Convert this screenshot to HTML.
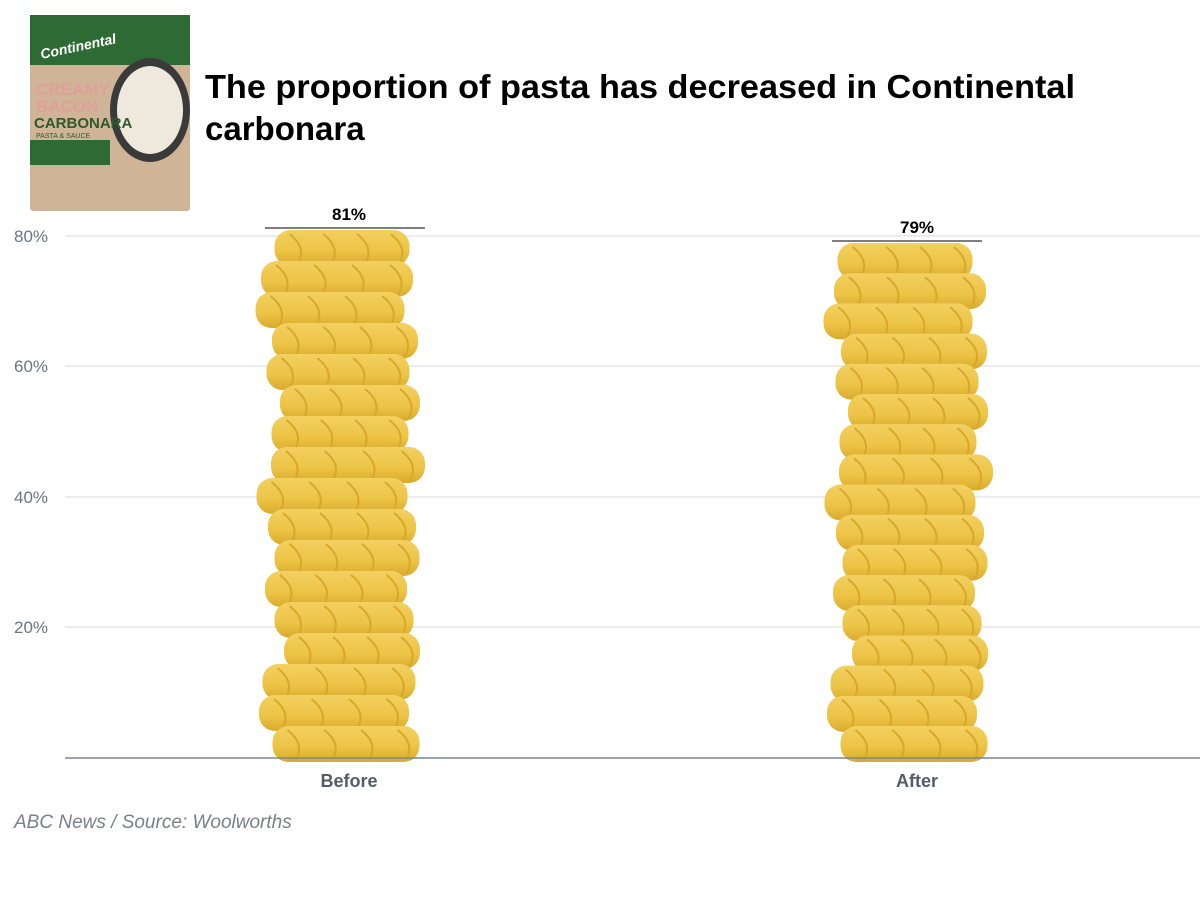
<!DOCTYPE html>
<html><head><meta charset="utf-8"><style>
body{margin:0;background:#fff;width:1200px;height:893px;overflow:hidden;font-family:"Liberation Sans",sans-serif;}
</style></head><body>
<svg width="1200" height="893" xmlns="http://www.w3.org/2000/svg" id="s">
<defs>
<linearGradient id="pg" x1="0" y1="0" x2="0" y2="1">
<stop offset="0" stop-color="#f3d060"/><stop offset="0.6" stop-color="#ecc345"/><stop offset="1" stop-color="#d9aa2c"/>
</linearGradient>
</defs>
<rect x="30" y="15" width="160" height="196" fill="#cfb497" rx="3"/>
<rect x="30" y="15" width="160" height="50" fill="#2e6b34"/>
<rect x="30" y="140" width="80" height="25" fill="#2e6b34"/>
<ellipse cx="150" cy="110" rx="40" ry="52" fill="#3a3a3a"/>
<ellipse cx="150" cy="110" rx="33" ry="44" fill="#eee9dc"/>
<text x="40" y="55" font-size="14" font-style="italic" font-weight="bold" fill="#fff" transform="rotate(-12 60 50)">Continental</text>
<text x="36" y="95" font-size="17" font-weight="bold" fill="#e0a09a">CREAMY</text>
<text x="36" y="112" font-size="17" font-weight="bold" fill="#e0a09a">BACON</text>
<text x="34" y="128" font-size="15" font-weight="bold" fill="#2e5a2e">CARBONARA</text>
<text x="36" y="138" font-size="7" fill="#2e5a2e">PASTA &amp; SAUCE</text>
<text x="205" y="98" font-size="33" font-weight="bold" fill="#000" textLength="870" lengthAdjust="spacingAndGlyphs">The proportion of pasta has decreased in Continental</text>
<text x="205" y="140" font-size="33" font-weight="bold" fill="#000">carbonara</text>
<g stroke="#dde1e7" stroke-width="1.2">
<line x1="65" x2="1200" y1="236" y2="236"/>
<line x1="65" x2="1200" y1="366" y2="366"/>
<line x1="65" x2="1200" y1="497" y2="497"/>
<line x1="65" x2="1200" y1="627" y2="627"/>
</g>
<g id="pasta"></g>
<line x1="65" x2="1200" y1="758" y2="758" stroke="#7c8594" stroke-width="1.5"/>
<g font-size="17" fill="#6b7585">
<text x="14" y="242">80%</text><text x="14" y="372">60%</text><text x="14" y="503">40%</text><text x="14" y="633">20%</text>
</g>
<line x1="265" x2="425" y1="228" y2="228" stroke="#555" stroke-width="1.5"/>
<line x1="832" x2="982" y1="241" y2="241" stroke="#555" stroke-width="1.5"/>
<text x="349" y="220" font-size="17" font-weight="bold" text-anchor="middle">81%</text>
<text x="917" y="233" font-size="17" font-weight="bold" text-anchor="middle">79%</text>
<text x="349" y="787" font-size="18" font-weight="bold" fill="#555c68" text-anchor="middle">Before</text>
<text x="917" y="787" font-size="18" font-weight="bold" fill="#555c68" text-anchor="middle">After</text>
<text x="14" y="828" font-size="19" font-style="italic" fill="#7a808a">ABC News / Source: Woolworths</text>
</svg>
<script>
var g=document.getElementById('pasta'),ns='http://www.w3.org/2000/svg';
function col(cx,top,offs){
 var n=17,h=36,bottom=762,step=(bottom-top-h)/(n-1);
 for(var i=0;i<n;i++){
  var y=top+i*step;
  var o=offs[i%offs.length];
  var w=135+((i*37)%20);
  var x=cx-w/2+o;
  var p=document.createElementNS(ns,'rect');
  p.setAttribute('x',x);p.setAttribute('y',y);p.setAttribute('width',w);p.setAttribute('height',h);
  p.setAttribute('rx',16);p.setAttribute('fill','url(#pg)');g.appendChild(p);
  for(var k=0;k<4;k++){
   var l=document.createElementNS(ns,'path');
   var lx=x+15+k*w/4;
   l.setAttribute('d','M'+lx+' '+(y+4)+' q 18 14 8 30');
   l.setAttribute('stroke','#d8a82a');l.setAttribute('stroke-width','2');l.setAttribute('fill','none');g.appendChild(l);
  }
 }
}
col(342,230,[0,-5,-12,3,-4,8,-2,6,-10,0,5,-6,2,10,-3,-8,4]);
col(910,243,[-5,0,-12,4,-3,8,-2,6,-10,0,5,-6,2,10,-3,-8,4]);
</script>
</body></html>
